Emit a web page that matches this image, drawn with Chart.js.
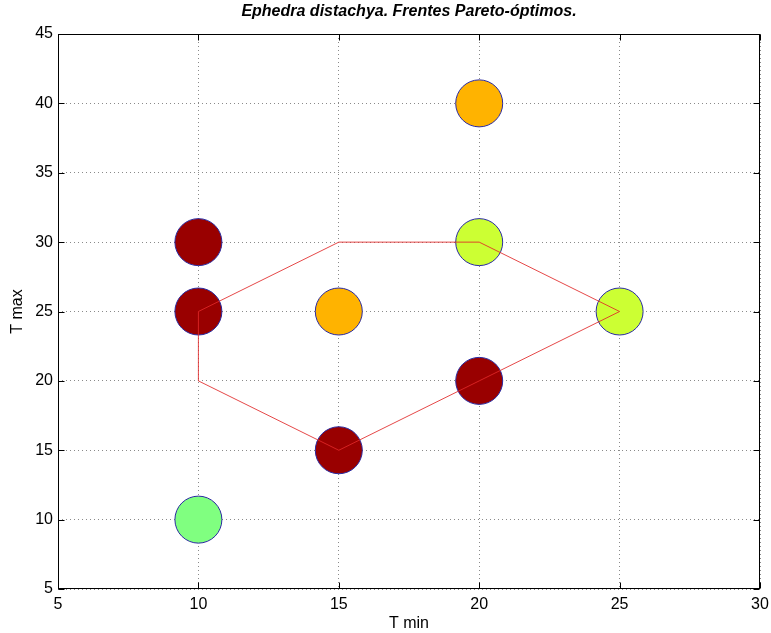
<!DOCTYPE html>
<html>
<head>
<meta charset="utf-8">
<script src="https://cdn.jsdelivr.net/npm/chart.js@4/dist/chart.umd.min.js"></script>
<style>
  html, body { margin: 0; padding: 0; background: #fff; overflow: hidden; }
  #wrap { position: relative; width: 771px; height: 633px; }
  #pareto { display: block; }
</style>
</head>
<body>
<div id="wrap"><canvas id="pareto"></canvas></div>
<script>
// datos
const tMin = [10, 10, 10, 15, 15, 20, 20, 20, 25];
const tMax = [30, 25, 10, 25, 15, 40, 30, 20, 25];
const nivel = [4, 4, 1, 3, 4, 3, 2, 4, 2];

// frente de Pareto (poligono rojo)
const frenteX = [10, 15, 20, 25, 20, 15, 10, 10];
const frenteY = [25, 30, 30, 25, 20, 15, 20, 25];

const xTicks = [5, 10, 15, 20, 25, 30];
const yTicks = [5, 10, 15, 20, 25, 30, 35, 40, 45];

const colores = { 1: "#80ff80", 2: "#ccff33", 3: "#ffb300", 4: "#990000" };

const puntos = tMin.map((x, i) => ({ x: x, y: tMax[i] }));
const frente = frenteX.map((x, i) => ({ x: x, y: frenteY[i] }));

const fontName = "'Liberation Sans', Arial, sans-serif";

// caja y marcas interiores estilo matlab
const matlabBox = {
  id: "matlabBox",
  afterDraw(chart) {
    const ctx = chart.ctx;
    const a = chart.chartArea;
    const xs = chart.scales.x;
    const ys = chart.scales.y;
    const L = Math.round(a.left) + 0.5;
    const R = Math.round(a.right) - 0.5;
    const T = Math.round(a.top) + 0.5;
    const B = Math.round(a.bottom) - 0.5;
    ctx.save();
    ctx.strokeStyle = "#000";
    ctx.lineWidth = 1;
    ctx.beginPath();
    xTicks.forEach((v) => {
      const px = Math.round(xs.getPixelForValue(v)) + 0.5;
      ctx.moveTo(px, B); ctx.lineTo(px, B - 6);
      ctx.moveTo(px, T); ctx.lineTo(px, T + 6);
    });
    yTicks.forEach((v) => {
      const py = Math.round(ys.getPixelForValue(v)) + 0.5;
      ctx.moveTo(L, py); ctx.lineTo(L + 6, py);
      ctx.moveTo(R, py); ctx.lineTo(R - 6, py);
    });
    ctx.stroke();
    ctx.strokeRect(L, T, R - L, B - T);
    ctx.restore();
  },
};

const ctx = document.getElementById("pareto").getContext("2d");
const chart = new Chart(ctx, {
  type: "scatter",
  data: {
    datasets: [
      {
        type: "line",
        data: frente,
        borderColor: "rgba(225, 40, 40, 0.85)",
        borderWidth: 1,
        pointRadius: 0,
        fill: false,
        tension: 0,
        order: 0,
      },
      {
        data: puntos,
        backgroundColor: nivel.map((n) => colores[n]),
        borderColor: "#2a2aa0",
        borderWidth: 1,
        pointRadius: 23.5,
        pointHoverRadius: 23.5,
        order: 1,
      },
    ],
  },
  options: {
    responsive: true,
    maintainAspectRatio: false,
    animation: false,
    layout: { autoPadding: false, padding: { left: 0, right: 11, top: 0, bottom: 0 } },
    plugins: {
      legend: { display: false },
      tooltip: { enabled: false },
      title: {
        display: true,
        fullSize: false,
        text: "Ephedra distachya. Frentes Pareto-óptimos.",
        color: "#000",
        font: { family: fontName, size: 16, weight: "bold", style: "italic" },
        padding: { top: 2, bottom: 12.8 },
      },
    },
    scales: {
      x: {
        type: "linear",
        min: 5,
        max: 30,
        afterBuildTicks: (s) => { s.ticks = xTicks.map((v) => ({ value: v })); },
        afterFit: (s) => { s.height = 44; s.paddingLeft = 0; s.paddingRight = 0; },
        ticks: { color: "#000", padding: 6, font: { family: fontName, size: 16 } },
        grid: {
          drawTicks: false,
          color: "#8a8a8a",
          lineWidth: 1,
        },
        border: { display: false, dash: [1, 3] },
        title: {
          display: true,
          text: "T min",
          color: "#000",
          font: { family: fontName, size: 16 },
          padding: { top: 0, bottom: 0 },
        },
      },
      y: {
        type: "linear",
        min: 5,
        max: 45,
        afterBuildTicks: (s) => { s.ticks = yTicks.map((v) => ({ value: v })); },
        afterFit: (s) => { s.width = 58; s.paddingTop = 0; s.paddingBottom = 0; },
        ticks: { color: "#000", padding: 5, font: { family: fontName, size: 16 } },
        grid: {
          drawTicks: false,
          color: "#8a8a8a",
          lineWidth: 1,
        },
        border: { display: false, dash: [1, 3] },
        title: {
          display: true,
          text: "T max",
          color: "#000",
          font: { family: fontName, size: 16 },
          padding: { top: 8, bottom: 0 },
        },
      },
    },
  },
  plugins: [matlabBox],
});
</script>
</body>
</html>
